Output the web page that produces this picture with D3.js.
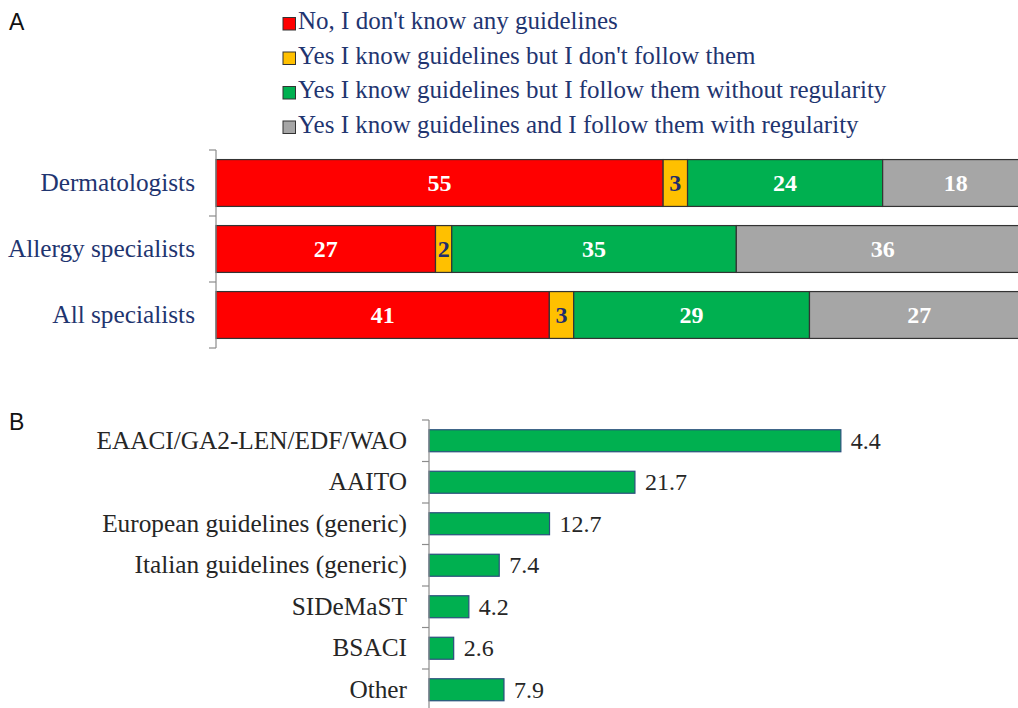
<!DOCTYPE html>
<html>
<head>
<meta charset="utf-8">
<script src="https://cdn.jsdelivr.net/npm/d3@7/dist/d3.min.js"></script>
<style>
  html, body { margin: 0; padding: 0; background: #fff; }
  svg { display: block; }
</style>
</head>
<body>
<svg id="chart" width="1018" height="708"></svg>
<script>
// ---------- Panel A data ----------
const groupsA = ["Dermatologists", "Allergy specialists", "All specialists"];
const seriesNamesA = [
  "No, I don't know any guidelines",
  "Yes I know guidelines but I don't follow them",
  "Yes I know guidelines but I follow them without regularity",
  "Yes I know guidelines and I follow them with regularity"
];
const noGuidelines     = [55, 27, 41];
const knowNotFollow    = [3, 2, 3];
const followIrregular  = [24, 35, 29];
const followRegular    = [18, 36, 27];
const colorsA = ["#ff0000", "#ffc000", "#00b050", "#a6a6a6"];
const labelColorsA = ["#ffffff", "#1f2d6b", "#ffffff", "#ffffff"];

// ---------- Panel B data ----------
const categoriesB = [
  "EAACI/GA2-LEN/EDF/WAO", "AAITO", "European guidelines (generic)",
  "Italian guidelines (generic)", "SIDeMaST", "BSACI", "Other"
];
const valuesB = [43.4, 21.7, 12.7, 7.4, 4.2, 2.6, 7.9];
const valueLabelsB = ["4.4", "21.7", "12.7", "7.4", "4.2", "2.6", "7.9"];

const svg = d3.select("#chart");
const serif = "'Liberation Serif', 'Times New Roman', serif";
const sans = "'Liberation Sans', Arial, sans-serif";
const navy = "#1f3570";

// Panel letters
svg.append("text").attr("x", 9).attr("y", 30).text("A")
  .attr("font-family", sans).attr("font-size", 23).attr("fill", "#111");
svg.append("text").attr("x", 9).attr("y", 430).text("B")
  .attr("font-family", sans).attr("font-size", 23).attr("fill", "#111");

// ---------- Panel A ----------
const seriesA = [noGuidelines, knowNotFollow, followIrregular, followRegular];
const xA = d3.scaleLinear().domain([0, 100]).range([216, 1029]);
const yA = d3.scaleBand().domain(groupsA).range([150, 348])
  .paddingInner(0.29).paddingOuter(0.145);

// legend
const legend = svg.append("g");
seriesNamesA.forEach((name, i) => {
  const base = 29 + i * 34.5;
  legend.append("rect").attr("x", 283).attr("y", base - 11.5).attr("width", 12.5).attr("height", 12.5)
    .attr("fill", colorsA[i]).attr("stroke", "#333").attr("stroke-width", 1);
  legend.append("text").attr("x", 298).attr("y", base).text(name)
    .attr("font-family", serif).attr("font-size", 25).attr("fill", navy);
});

// stacked bars
const gA = svg.append("g");
groupsA.forEach((g, gi) => {
  let cum = 0;
  seriesA.forEach((s, si) => {
    const v = s[gi];
    const x0 = xA(cum), x1 = xA(cum + v);
    gA.append("rect")
      .attr("x", x0).attr("y", yA(g)).attr("width", x1 - x0).attr("height", yA.bandwidth())
      .attr("fill", colorsA[si]).attr("stroke", "#333").attr("stroke-width", 1.2);
    gA.append("text")
      .attr("x", (x0 + x1) / 2).attr("y", yA(g) + yA.bandwidth() / 2 + 8)
      .attr("text-anchor", "middle").text(v)
      .attr("font-family", serif).attr("font-weight", "bold").attr("font-size", 24)
      .attr("fill", labelColorsA[si]);
    cum += v;
  });
});

// axis A
const axA = svg.append("g");
axA.append("line").attr("x1", 216).attr("x2", 216)
  .attr("y1", yA.range()[0]).attr("y2", yA.range()[1])
  .attr("stroke", "#8c8c8c").attr("stroke-width", 1.2);
d3.range(groupsA.length + 1).forEach(i => {
  const ty = yA.range()[0] + i * yA.step();
  axA.append("line").attr("x1", 209).attr("x2", 216).attr("y1", ty).attr("y2", ty)
    .attr("stroke", "#8c8c8c").attr("stroke-width", 1.2);
});
groupsA.forEach(g => {
  axA.append("text").attr("x", 195).attr("y", yA(g) + yA.bandwidth() / 2 + 8)
    .attr("text-anchor", "end").text(g)
    .attr("font-family", serif).attr("font-size", 25.3).attr("fill", navy);
});

// ---------- Panel B ----------
const xB = d3.scaleLinear().domain([0, 50]).range([429, 903.5]);
const yB = d3.scaleBand().domain(categoriesB).range([420, 420 + 41.5 * 7])
  .paddingInner(0.47).paddingOuter(0.235);

const gB = svg.append("g");
categoriesB.forEach((c, i) => {
  gB.append("rect").attr("x", xB(0)).attr("y", yB(c))
    .attr("width", xB(valuesB[i]) - xB(0)).attr("height", yB.bandwidth())
    .attr("fill", "#00b050").attr("stroke", "#2a4f7c").attr("stroke-width", 1.2);
  gB.append("text").attr("x", xB(valuesB[i]) + 10).attr("y", yB(c) + yB.bandwidth() / 2 + 8)
    .text(valueLabelsB[i])
    .attr("font-family", serif).attr("font-size", 24).attr("fill", "#262626");
  gB.append("text").attr("x", 407).attr("y", yB(c) + yB.bandwidth() / 2 + 8)
    .attr("text-anchor", "end").text(c)
    .attr("font-family", serif).attr("font-size", 25.3).attr("fill", "#262626");
});
const axB = svg.append("g");
axB.append("line").attr("x1", 429).attr("x2", 429)
  .attr("y1", 420).attr("y2", 708)
  .attr("stroke", "#8c8c8c").attr("stroke-width", 1.2);
d3.range(categoriesB.length + 1).forEach(i => {
  const ty = yB.range()[0] + i * yB.step();
  axB.append("line").attr("x1", 422).attr("x2", 429).attr("y1", ty).attr("y2", ty)
    .attr("stroke", "#8c8c8c").attr("stroke-width", 1.2);
});
</script>
</body>
</html>
